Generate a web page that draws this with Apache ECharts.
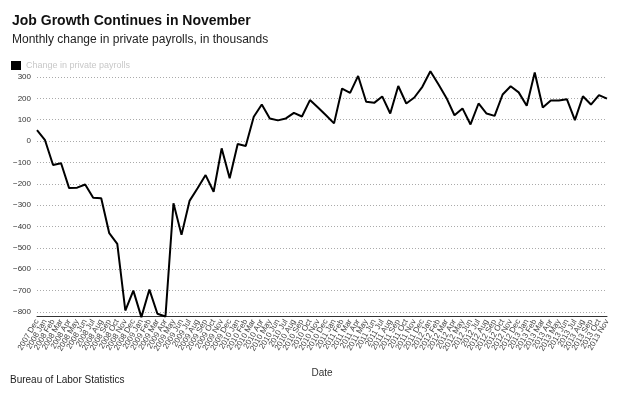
<!DOCTYPE html>
<html>
<head>
<meta charset="utf-8">
<script src="https://cdn.jsdelivr.net/npm/echarts@6/dist/echarts.min.js"></script>
<style>
  html, body { margin: 0; padding: 0; background: #fff; }
  #chart { width: 630px; height: 393px; }
</style>
</head>
<body>
<div id="chart"></div>
<script>
  // months from 2007 Dec to 2013 Nov
  var months = ['Jan','Feb','Mar','Apr','May','Jun','Jul','Aug','Sep','Oct','Nov','Dec']
  var dates = ['2007 Dec']
  for (var y = 2008; y <= 2013; y++) {
    for (var m = 0; m < 12; m++) {
      if (y == 2013 && m > 10) break
      dates.push(y + ' ' + months[m])
    }
  }

  // change in private payrolls, thousands
  var payrolls = [
    51, 4, -112, -104, -220, -218, -203, -265, -268, -431, -481, -793,
    -700, -824, -695, -808, -821, -291, -439, -280, -221, -159, -237, -34,
    -174, -14, -23, 114, 171, 106, 97, 106, 132, 115, 192, 157,
    121, 83, 246, 226, 305, 184, 179, 209, 129, 258, 176, 204,
    254, 327, 266, 202, 121, 153, 78, 176, 129, 118, 218, 257,
    228, 165, 321, 157, 190, 190, 196, 98, 210, 171, 215, 199
  ]

  var font = '"Liberation Sans", Arial, sans-serif'
  var chart = echarts.init(document.getElementById('chart'))
  chart.setOption({
    animation: false,
    textStyle: { fontFamily: font },
    title: {
      text: 'Job Growth Continues in November',
      subtext: 'Monthly change in private payrolls, in thousands',
      left: 7,
      top: 9,
      itemGap: 6,
      textStyle: { fontSize: 14, fontWeight: 'bold', color: '#111', fontFamily: font },
      subtextStyle: { fontSize: 12, color: '#222', fontFamily: font }
    },
    legend: {
      data: ['Change in private payrolls'],
      left: 6,
      top: 56,
      icon: 'rect',
      itemWidth: 10,
      itemHeight: 9,
      itemGap: 4,
      textStyle: { color: '#c8c8c8', fontSize: 9, fontFamily: font }
    },
    grid: { left: 37, right: 23, top: 77, bottom: 81 },
    xAxis: {
      type: 'category',
      data: dates,
      boundaryGap: false,
      offset: 4,
      name: 'Date',
      nameLocation: 'middle',
      nameGap: 52,
      nameTextStyle: { color: '#333', fontSize: 10 },
      axisLine: { onZero: false, lineStyle: { color: '#333', width: 1 } },
      axisTick: { show: false },
      axisLabel: { interval: 0, rotate: 60, fontSize: 8, color: '#444', margin: 4 },
      splitLine: { show: false }
    },
    yAxis: {
      type: 'value',
      min: -800,
      max: 300,
      interval: 100,
      axisLine: { show: false },
      axisTick: { show: false },
      axisLabel: {
        fontSize: 8, color: '#333', margin: 6,
        formatter: function (v) { return String(v).replace('-', '\u2212') }
      },
      splitLine: { lineStyle: { color: '#aaa', type: [1, 2], width: 1 } }
    },
    graphic: [{
      type: 'text',
      left: 10,
      top: 375,
      style: { text: 'Bureau of Labor Statistics', fontSize: 10, fill: '#222', fontFamily: font }
    }],
    series: [{
      name: 'Change in private payrolls',
      type: 'line',
      data: payrolls,
      clip: false,
      symbol: 'none',
      color: '#000',
      lineStyle: { color: '#000', width: 2 }
    }]
  })
</script>
</body>
</html>
